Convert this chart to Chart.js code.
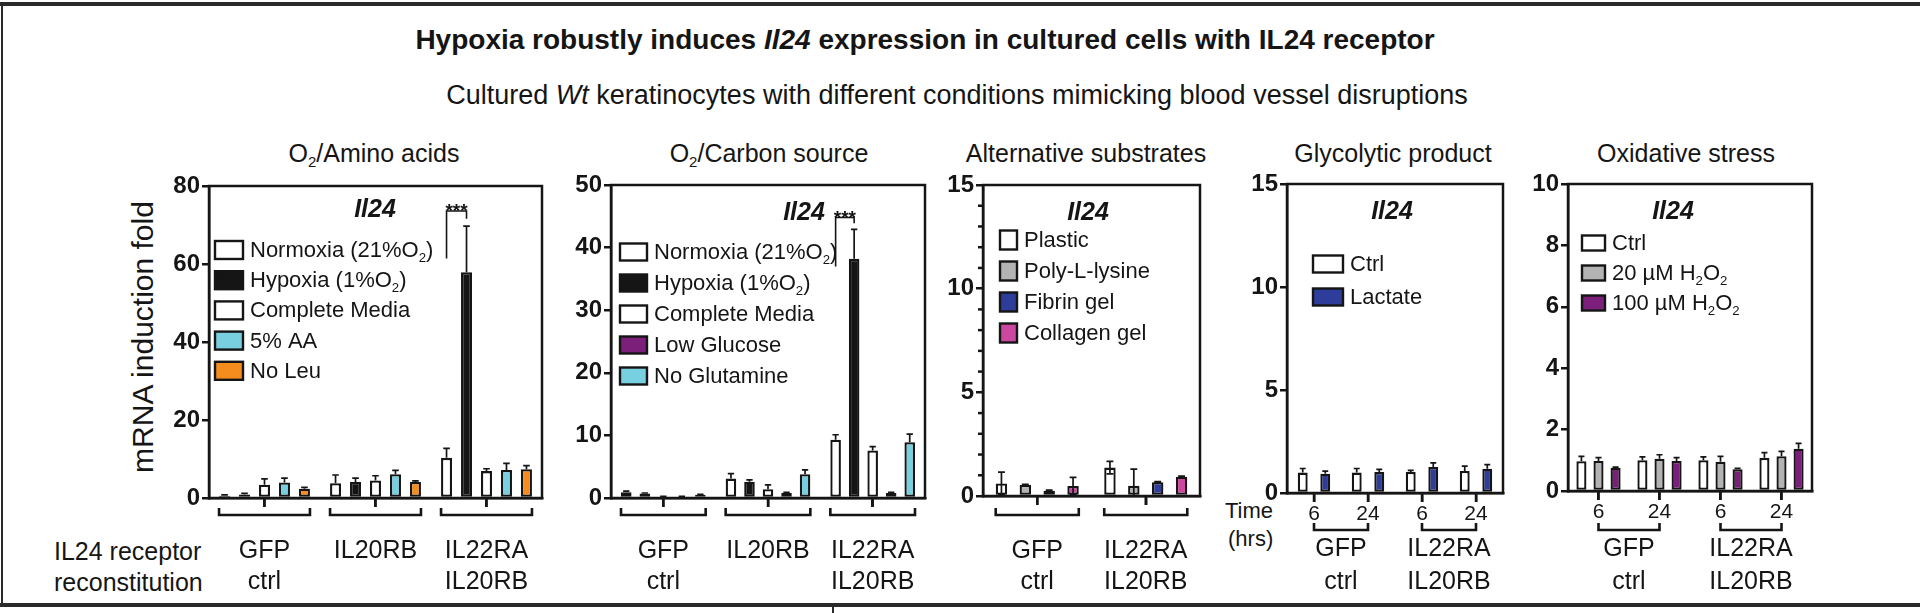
<!DOCTYPE html>
<html>
<head>
<meta charset="utf-8">
<script src="https://cdn.jsdelivr.net/npm/chart.js@4.4.1/dist/chart.umd.min.js"></script>
<style>
body{margin:0;width:1920px;height:613px;position:relative;background:#fff;overflow:hidden;font-family:"Liberation Sans",Arial,sans-serif;color:#151515}
canvas{position:absolute;left:0;top:0}
.c{position:absolute;white-space:nowrap;transform:translate(-50%,-50%);line-height:1}
.l{position:absolute;white-space:nowrap;transform:translateY(-50%);line-height:1}
sub{font-size:60%;vertical-align:-0.35em;line-height:0}
.ln{position:absolute;background:#2a2a2a}
</style>
</head>
<body>
<div class="ln" style="left:0;top:2px;width:1920px;height:4px"></div>
<div class="ln" style="left:1px;top:2px;width:2px;height:605px"></div>
<div class="ln" style="left:0;top:603px;width:1920px;height:4px"></div>
<div class="ln" style="left:832px;top:605px;width:2px;height:8px"></div>

<div class="c" style="left:925px;top:40px;font-size:28px;font-weight:bold">Hypoxia robustly induces <i>Il24</i> expression in cultured cells with IL24 receptor</div>
<div class="c" style="left:957px;top:95px;font-size:27px">Cultured <i>Wt</i> keratinocytes with different conditions mimicking blood vessel disruptions</div>

<div class="c" style="left:374px;top:153px;font-size:25px">O<sub>2</sub>/Amino acids</div>
<div class="c" style="left:769px;top:153px;font-size:25px">O<sub>2</sub>/Carbon source</div>
<div class="c" style="left:1086px;top:153px;font-size:25px">Alternative substrates</div>
<div class="c" style="left:1393px;top:153px;font-size:25px">Glycolytic product</div>
<div class="c" style="left:1686px;top:153px;font-size:25px">Oxidative stress</div>

<div class="c" style="left:143px;top:337px;font-size:30px;transform:translate(-50%,-50%) rotate(-90deg)">mRNA induction fold</div>

<div class="l" style="left:54px;top:551px;font-size:25px">IL24 receptor</div>
<div class="l" style="left:54px;top:582px;font-size:25px">reconstitution</div>
<div class="l" style="left:1225px;top:511px;font-size:22px">Time</div>
<div class="l" style="left:1228px;top:539px;font-size:22px">(hrs)</div>

<canvas id="p1" width="1920" height="613"></canvas>
<canvas id="p2" width="1920" height="613"></canvas>
<canvas id="p3" width="1920" height="613"></canvas>
<canvas id="p4" width="1920" height="613"></canvas>
<canvas id="p5" width="1920" height="613"></canvas>

<script>
// ---- O2 / amino acids ----
const aaGroups = ['GFP ctrl', 'IL20RB', 'IL22RA IL20RB'];
const aaNormoxia = [0.6, 3.8, 10.3];
const aaNormoxiaErr = [0.2, 2.1, 2.4];
const aaHypoxia = [0.9, 4.1, 57.9];
const aaHypoxiaErr = [0.3, 1.0, 11.8];
const aaComplete = [3.4, 4.5, 6.9];
const aaCompleteErr = [1.5, 1.2, 0.6];
const aaLowAA = [4.0, 6.1, 7.2];
const aaLowAAErr = [1.1, 1.0, 1.7];
const aaNoLeu = [2.4, 4.1, 7.4];
const aaNoLeuErr = [0.3, 0.3, 0.9];
const aaSig = [61.4, 73.6, 71.6];

// ---- O2 / carbon source ----
const csGroups = ['GFP ctrl', 'IL20RB', 'IL22RA IL20RB'];
const csNormoxia = [0.9, 3.1, 9.3];
const csNormoxiaErr = [0.2, 0.8, 0.8];
const csHypoxia = [0.7, 2.6, 38.2];
const csHypoxiaErr = [0.1, 0.3, 4.7];
const csComplete = [0.2, 1.4, 7.6];
const csCompleteErr = [0.05, 0.7, 0.6];
const csLowGlucose = [0.2, 0.8, 0.8];
const csLowGlucoseErr = [0.05, 0.1, 0.1];
const csNoGln = [0.5, 3.8, 8.9];
const csNoGlnErr = [0.1, 0.7, 1.3];
const csSig = [37, 44.8, 43.9];

// ---- alternative substrates ----
const subGroups = ['GFP ctrl', 'IL22RA IL20RB'];
const subPlastic = [0.6, 1.37];
const subPlasticErr = [0.55, 0.3];
const subPolyLys = [0.53, 0.5];
const subPolyLysErr = [0.03, 0.8];
const subFibrin = [0.25, 0.66];
const subFibrinErr = [0.03, 0.03];
const subCollagen = [0.48, 0.93];
const subCollagenErr = [0.42, 0.03];
const subMinor = [1, 2, 3, 4, 6, 7, 8, 9, 11, 12, 13, 14];

// ---- glycolytic product ----
const hours = ['6', '24', '6', '24'];
const pairGroups = ['GFP ctrl', 'IL22RA IL20RB'];
const glyCtrl = [0.99, 0.99, 1.02, 1.07];
const glyCtrlErr = [0.2, 0.2, 0.08, 0.23];
const glyLactate = [0.94, 1.02, 1.26, 1.18];
const glyLactateErr = [0.12, 0.13, 0.2, 0.2];

// ---- oxidative stress ----
const oxCtrl = [0.97, 1.0, 1.0, 1.08];
const oxCtrlErr = [0.16, 0.11, 0.11, 0.17];
const oxLow = [0.98, 1.05, 0.95, 1.13];
const oxLowErr = [0.11, 0.13, 0.18, 0.16];
const oxHigh = [0.76, 0.98, 0.71, 1.38];
const oxHighErr = [0.02, 0.11, 0.03, 0.17];

const FONT = '"Liberation Sans", Arial, sans-serif';
const INK = '#151515';
const WHITE = '#ffffff', BLACK = '#151515', CYAN = '#78cfdf', ORANGE = '#f58d1e';
const PURPLE = '#7b1f7a', GRAY = '#b3b3b3', BLUE = '#2e3d9a', PINK = '#cb47a0';

// text with _2 style subscripts
function richText(ctx, txt, x, y, size) {
  const parts = txt.split(/_(\d)/);
  parts.forEach((p, k) => {
    if (k % 2) {
      ctx.font = (size * 0.6) + 'px ' + FONT;
      ctx.fillText(p, x, y + size * 0.32);
    } else {
      ctx.font = size + 'px ' + FONT;
      ctx.fillText(p, x, y);
    }
    x += ctx.measureText(p).width;
  });
}

const decor = {
  id: 'decor',
  afterDatasetsDraw(chart, args, o) {
    const ctx = chart.ctx, a = chart.chartArea, ys = chart.scales.y, xs = chart.scales.x;
    const sets = chart.data.datasets;
    ctx.save();
    ctx.strokeStyle = INK;
    ctx.fillStyle = INK;

    // error bars
    ctx.lineWidth = 1.7;
    sets.forEach((ds, i) => {
      chart.getDatasetMeta(i).data.forEach((bar, j) => {
        const v = ds.data[j], e = ds.err[j];
        const top = ys.getPixelForValue(v + e);
        const low = o.both ? ys.getPixelForValue(Math.max(0, v - e)) : bar.y;
        const cw = bar.width * 0.6;
        ctx.beginPath();
        ctx.moveTo(bar.x, low); ctx.lineTo(bar.x, top);
        ctx.moveTo(bar.x - cw / 2, top); ctx.lineTo(bar.x + cw / 2, top);
        if (o.both && v - e > 0) { ctx.moveTo(bar.x - cw / 2, low); ctx.lineTo(bar.x + cw / 2, low); }
        ctx.stroke();
      });
    });

    // frame
    ctx.lineWidth = 2.5;
    ctx.strokeRect(a.left, a.top, a.width, a.height);

    // tick marks under the x axis and minor y ticks
    xs.ticks.forEach((t, i) => {
      const x = xs.getPixelForTick(i);
      ctx.beginPath(); ctx.moveTo(x, a.bottom); ctx.lineTo(x, a.bottom + 9); ctx.stroke();
    });
    (o.minor || []).forEach(v => {
      const y = ys.getPixelForValue(v);
      ctx.beginPath(); ctx.moveTo(a.left - 5, y); ctx.lineTo(a.left, y); ctx.stroke();
    });

    // gene name
    ctx.font = 'italic bold 25px ' + FONT;
    ctx.textAlign = 'center'; ctx.textBaseline = 'middle';
    ctx.fillText('Il24', a.left + o.gene[0], a.top + o.gene[1]);

    // legend
    const L = o.legend;
    ctx.textAlign = 'left';
    sets.forEach((ds, i) => {
      const cy = a.top + L.y + i * L.row;
      ctx.fillStyle = ds.backgroundColor;
      ctx.fillRect(a.left + L.x, cy - L.h / 2, L.w, L.h);
      ctx.lineWidth = 2.4;
      ctx.strokeRect(a.left + L.x, cy - L.h / 2, L.w, L.h);
      ctx.fillStyle = INK;
      richText(ctx, ds.label, a.left + L.x + L.w + 7, cy + 1, 22);
    });

    // significance bracket
    if (o.sig) {
      const s = o.sig;
      const x1 = chart.getDatasetMeta(s.from).data[s.cat].x;
      const x2 = chart.getDatasetMeta(s.to).data[s.cat].x;
      const yl = ys.getPixelForValue(s.lv[0]), yt = ys.getPixelForValue(s.lv[1]), yr = ys.getPixelForValue(s.lv[2]);
      ctx.lineWidth = 1.6;
      ctx.beginPath(); ctx.moveTo(x1, yl); ctx.lineTo(x1, yt); ctx.lineTo(x2, yt); ctx.lineTo(x2, yr); ctx.stroke();
      ctx.font = 'bold 19px ' + FONT; ctx.textAlign = 'center'; ctx.textBaseline = 'alphabetic';
      ctx.fillText('***', (x1 + x2) / 2, yt + 6);
    }

    // group brackets and labels under the axis
    const spans = [];
    if (o.pairs) {
      o.pairs.forEach((g, k) => spans.push([xs.getPixelForValue(2 * k), xs.getPixelForValue(2 * k + 1), g]));
    } else {
      const first = chart.getDatasetMeta(0).data, last = chart.getDatasetMeta(sets.length - 1).data;
      chart.data.labels.forEach((g, k) => spans.push([first[k].x - first[k].width / 2, last[k].x + last[k].width / 2, g]));
    }
    ctx.lineWidth = 2.6;
    ctx.textAlign = 'center'; ctx.textBaseline = 'middle';
    ctx.font = '25px ' + FONT;
    spans.forEach(([l, r, g]) => {
      const y = a.bottom + o.brY;
      ctx.beginPath(); ctx.moveTo(l, y - 7); ctx.lineTo(l, y); ctx.lineTo(r, y); ctx.lineTo(r, y - 7); ctx.stroke();
      g.split(' ').forEach((w, n) => ctx.fillText(w, (l + r) / 2, a.bottom + o.lab[n]));
    });
    ctx.restore();
  }
};

function panel(id, box, labels, sets, yMax, yStep, geo, deco) {
  const YW = 40, XH = 40;
  return new Chart(document.getElementById(id), {
    type: 'bar',
    data: {
      labels: labels,
      datasets: sets.map(s => ({
        label: s[0], data: s[1], err: s[2], backgroundColor: s[3],
        borderColor: INK, borderWidth: 2.3, borderSkipped: false,
        barPercentage: geo.bar, categoryPercentage: geo.cat
      }))
    },
    options: {
      responsive: false,
      animation: false,
      layout: { padding: { left: box[0] - YW, top: box[1], right: 1920 - box[2], bottom: 613 - box[3] - XH } },
      plugins: { legend: { display: false }, tooltip: { enabled: false }, decor: deco },
      scales: {
        x: {
          afterFit: s => { s.height = XH; },
          grid: { offset: false, drawOnChartArea: false, tickLength: 9, color: INK, lineWidth: 2.5 },
          border: { color: INK, width: 2.5 },
          ticks: { display: geo.ticks, color: INK, font: { family: FONT, size: 21 }, padding: 0, maxRotation: 0, autoSkip: false }
        },
        y: {
          min: 0, max: yMax,
          afterFit: s => { s.width = YW; },
          ticks: { stepSize: yStep, color: INK, font: { family: FONT, size: 24, weight: 'bold' }, padding: 2 },
          grid: { drawOnChartArea: false, tickLength: 7, color: INK, lineWidth: 2.5 },
          border: { color: INK, width: 2.5 }
        }
      }
    },
    plugins: [decor]
  });
}

panel('p1', [209, 186, 542, 498], aaGroups, [
  ['Normoxia (21%O_2)', aaNormoxia, aaNormoxiaErr, WHITE],
  ['Hypoxia (1%O_2)', aaHypoxia, aaHypoxiaErr, BLACK],
  ['Complete Media', aaComplete, aaCompleteErr, WHITE],
  ['5% AA', aaLowAA, aaLowAAErr, CYAN],
  ['No Leu', aaNoLeu, aaNoLeuErr, ORANGE]
], 80, 20, { cat: 0.9, bar: 0.55, ticks: false }, {
  gene: [166, 24], legend: { x: 6, y: 64, w: 28, h: 18, row: 30.2 },
  sig: { cat: 2, from: 0, to: 1, lv: aaSig }, brY: 17, lab: [53, 84]
});

panel('p2', [611, 185, 925, 498], csGroups, [
  ['Normoxia (21%O_2)', csNormoxia, csNormoxiaErr, WHITE],
  ['Hypoxia (1%O_2)', csHypoxia, csHypoxiaErr, BLACK],
  ['Complete Media', csComplete, csCompleteErr, WHITE],
  ['Low Glucose', csLowGlucose, csLowGlucoseErr, PURPLE],
  ['No Glutamine', csNoGln, csNoGlnErr, CYAN]
], 50, 10, { cat: 0.885, bar: 0.57, ticks: false }, {
  gene: [193, 28], legend: { x: 9, y: 67, w: 27, h: 17, row: 31 },
  sig: { cat: 2, from: 0, to: 1, lv: csSig }, brY: 17, lab: [53, 84]
});

panel('p3', [983, 185, 1200, 496], subGroups, [
  ['Plastic', subPlastic, subPlasticErr, WHITE],
  ['Poly-L-lysine', subPolyLys, subPolyLysErr, GRAY],
  ['Fibrin gel', subFibrin, subFibrinErr, BLUE],
  ['Collagen gel', subCollagen, subCollagenErr, PINK]
], 15, 5, { cat: 0.88, bar: 0.48, ticks: false }, {
  gene: [105, 28], legend: { x: 17, y: 55, w: 17, h: 19, row: 31 },
  both: true, minor: subMinor, brY: 19, lab: [55, 86]
});

panel('p4', [1287, 184, 1503, 493], hours, [
  ['Ctrl', glyCtrl, glyCtrlErr, WHITE],
  ['Lactate', glyLactate, glyLactateErr, BLUE]
], 15, 5, { cat: 0.835, bar: 0.44, ticks: true }, {
  gene: [105, 28], legend: { x: 26, y: 80, w: 30, h: 17, row: 33 },
  pairs: pairGroups, brY: 37, lab: [56, 89]
});

panel('p5', [1568, 184, 1812, 491], hours, [
  ['Ctrl', oxCtrl, oxCtrlErr, WHITE],
  ['20 µM H_2O_2', oxLow, oxLowErr, GRAY],
  ['100 µM H_2O_2', oxHigh, oxHighErr, PURPLE]
], 10, 2, { cat: 0.84, bar: 0.59, ticks: true }, {
  gene: [105, 28], legend: { x: 14, y: 59, w: 23, h: 15, row: 30 },
  pairs: pairGroups, brY: 39, lab: [58, 91]
});
</script>
</body>
</html>
